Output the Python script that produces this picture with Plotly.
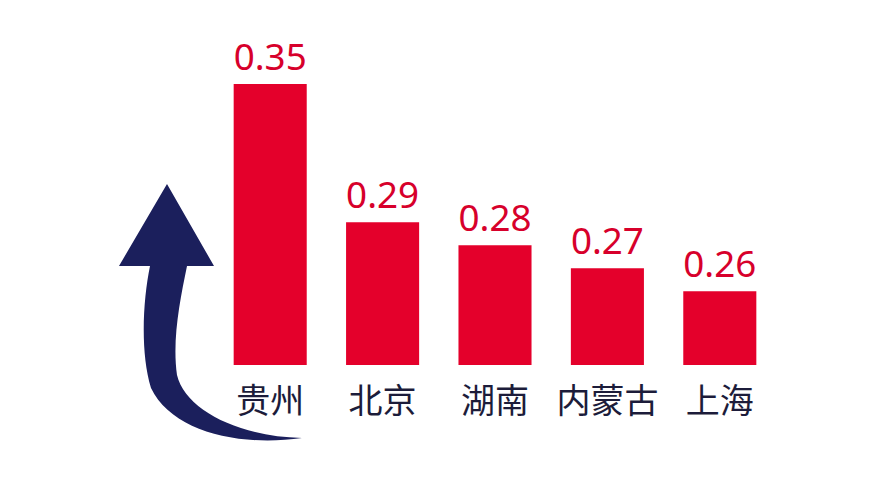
import plotly.graph_objects as go

categories = ["贵州", "北京", "湖南", "内蒙古", "上海"]
values = [0.35, 0.29, 0.28, 0.27, 0.26]
value_labels = ["0.35", "0.29", "0.28", "0.27", "0.26"]

W, H = 873, 486
OFF = 8  # page body margin
ML, MR, MT, MB = 214 - OFF, 97 + OFF, 20 - OFF, 121 + OFF
Y0 = 0.228
PX_PER_UNIT = 2303
plot_h = H - MT - MB
plot_w = W - ML - MR


def px(x, y):
    x -= OFF
    y -= OFF
    return ((x - ML) / plot_w, (H - MB - y) / plot_h)


arrow_pts = [
    ("M", [(167, 184)]),
    ("L", [(214, 266)]),
    ("L", [(187, 266)]),
    ("C", [(180, 300), (172, 340), (177, 375)]),
    ("C", [(185, 410), (240, 437), (302, 438)]),
    ("C", [(240, 447), (172, 432), (151, 388)]),
    ("C", [(140, 352), (143, 300), (150, 266)]),
    ("L", [(119, 266)]),
]
path = ""
for cmd, pts in arrow_pts:
    path += cmd + " " + " ".join("%.5f,%.5f" % px(x, y) for x, y in pts) + " "
path += "Z"

fig = go.Figure(
    go.Bar(
        x=categories,
        y=values,
        text=value_labels,
        textposition="outside",
        textfont=dict(family="Noto Sans", size=37, color="#D7002B"),
        marker=dict(color="#E4002B", line=dict(width=0)),
        cliponaxis=False,
        width=0.65,
    )
)

fig.add_shape(type="path", path=path, xref="paper", yref="paper",
              fillcolor="#1B1F5C", line=dict(width=0), layer="above")

fig.update_layout(
    width=W, height=H,
    margin=dict(l=ML, r=MR, t=MT, b=MB),
    paper_bgcolor="white", plot_bgcolor="white",
    showlegend=False,
    xaxis=dict(showline=False, showgrid=False, ticks="",
               tickfont=dict(family="Noto Sans CJK SC", size=34, color="#1C1C3A"),
               ticklabelstandoff=13),
    yaxis=dict(visible=False, range=[Y0, Y0 + plot_h / PX_PER_UNIT]),
)

fig.write_html("out.html")
